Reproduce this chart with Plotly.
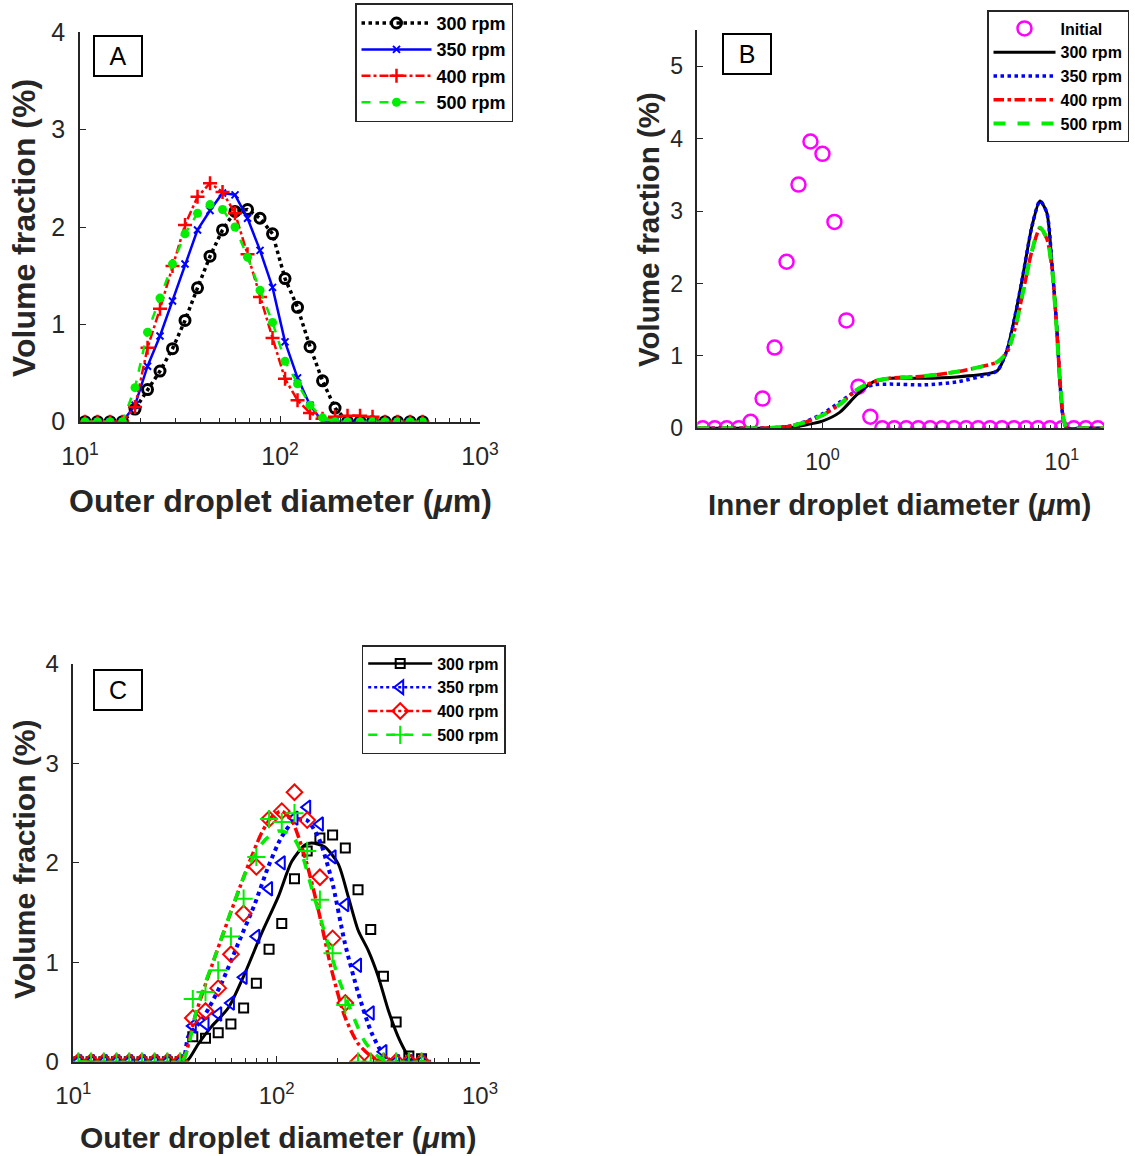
import plotly.graph_objects as go

W, H = 1135, 1156

# ---------------- Panel A data (outer droplet size distributions) ----------------
dA = [10.59, 12.23, 14.13, 16.31, 18.84, 21.76, 25.12, 29.01, 33.50, 38.69, 44.68, 51.60,
      59.58, 68.81, 79.46, 91.76, 105.96, 122.37, 141.31, 163.19, 188.45, 217.6, 251.3,
      290.2, 335.1, 387.0, 446.9, 516.1]
a300 = [0, 0, 0, 0, 0.13, 0.33, 0.52, 0.75, 1.04, 1.375, 1.70, 1.97, 2.16, 2.18, 2.09, 1.93,
        1.47, 1.175, 0.77, 0.42, 0.14, 0, 0, 0, 0, 0, 0, 0]
a350 = [0, 0, 0, 0, 0.17, 0.57, 0.88, 1.24, 1.62, 1.97, 2.17, 2.35, 2.33, 2.09, 1.76, 1.38,
        0.82, 0.45, 0.17, 0, 0, 0, 0, 0, 0, 0, 0, 0]
a400 = [0, 0, 0, 0, 0.15, 0.76, 1.16, 1.60, 2.02, 2.31, 2.45, 2.36, 2.14, 1.72, 1.28, 0.86,
        0.44, 0.22, 0.09, 0.03, 0.05, 0.06, 0.06, 0.05, 0, 0, 0, 0]
a500 = [0, 0, 0, 0, 0.35, 0.92, 1.27, 1.62, 1.93, 2.14, 2.23, 2.18, 2.00, 1.69, 1.35, 1.02,
        0.62, 0.39, 0.17, 0.04, 0, 0, 0, 0, 0, 0, 0, 0]

# ---------------- Panel B data (inner droplet size distributions) ----------------
dB_init = [0.316, 0.355, 0.398, 0.447, 0.501, 0.562, 0.631, 0.708, 0.794, 0.891, 1.0, 1.122,
           1.259, 1.413, 1.585, 1.778, 1.995, 2.239, 2.512, 2.818, 3.162, 3.548, 3.981, 4.467,
           5.012, 5.623, 6.310, 7.079, 7.943, 8.913, 10.0, 11.22, 12.59, 14.13]
b_init = [0, 0, 0, 0, 0.09, 0.41, 1.115, 2.30, 3.365, 3.96, 3.79, 2.85, 1.49, 0.575, 0.16,
          0, 0, 0, 0, 0, 0, 0, 0, 0, 0, 0, 0, 0, 0, 0, 0, 0, 0, 0]
dB = [0.3, 0.5, 0.6, 0.73, 0.86, 1.0, 1.18, 1.39, 1.63, 1.91, 2.64, 3.64, 5.0, 5.4, 5.9, 6.4,
      6.9, 7.5, 8.1, 8.65, 9.1, 9.5, 9.85, 10.15, 10.5, 12, 15]
b300 = [0, 0, 0.003, 0.01, 0.05, 0.10, 0.22, 0.46, 0.64, 0.69, 0.69, 0.71, 0.76, 0.80, 1.08,
        1.58, 2.14, 2.79, 3.14, 2.98, 2.25, 1.45, 0.57, 0.12, 0, 0, 0]
b350 = [0, 0, 0.005, 0.03, 0.10, 0.20, 0.36, 0.52, 0.60, 0.61, 0.60, 0.64, 0.75, 0.80, 1.08,
        1.58, 2.14, 2.79, 3.14, 2.98, 2.25, 1.45, 0.57, 0.12, 0, 0, 0]
b400 = [0, 0, 0.005, 0.03, 0.09, 0.18, 0.33, 0.53, 0.64, 0.69, 0.72, 0.78, 0.88, 0.92, 1.05,
        1.40, 1.90, 2.45, 2.76, 2.62, 2.20, 1.40, 0.60, 0.15, 0, 0, 0]
b500 = [0, 0, 0.005, 0.03, 0.09, 0.18, 0.33, 0.53, 0.65, 0.69, 0.72, 0.78, 0.88, 0.92, 1.05,
        1.40, 1.90, 2.45, 2.77, 2.63, 2.20, 1.40, 0.60, 0.15, 0, 0, 0]

# ---------------- Panel C data (outer droplets: experiment markers + model lines) ----------------
dC = dA
c300_exp = [0, 0, 0, 0, 0, 0, 0, 0, 0, 0.25, 0.235, 0.29, 0.38, 0.54, 0.79, 1.13, 1.39, 1.84,
            2.12, 2.25, 2.28, 2.15, 1.73, 1.33, 0.86, 0.40, 0.057, 0.03]
c350_exp = [0, 0, 0, 0, 0, 0, 0, 0, 0, 0.36, 0.38, 0.48, 0.59, 0.85, 1.26, 1.74, 2.00, 2.45,
            2.56, 2.39, 2.06, 1.58, 0.97, 0.49, 0.10, 0, 0, 0]
c400_exp = [0, 0, 0, 0, 0, 0, 0, 0, 0, 0.44, 0.51, 0.74, 1.08, 1.49, 1.96, 2.44, 2.52, 2.71,
            2.43, 1.855, 1.24, 0.59, 0, 0, 0, 0, 0, 0]
c500_exp = [0, 0, 0, 0, 0, 0, 0, 0, 0, 0.63, 0.70, 0.92, 1.26, 1.64, 2.06, 2.44, 2.41, 2.50,
            2.12, 1.63, 1.09, 0.57, 0, 0, 0, 0, 0, 0]

cx300 = [10.6, 34.0, 36.7, 41.2, 47.7, 57.8, 69.8, 84.3, 101.9, 118.4, 137.7, 148.5, 172.7,
         200.8, 225, 251.9, 282, 315.6, 353.8, 396, 443.6, 459, 575]
c300 = [0, 0, 0.02, 0.18, 0.35, 0.54, 0.89, 1.29, 1.66, 2.01, 2.18, 2.20, 2.16, 1.99, 1.66,
        1.32, 1.12, 0.86, 0.52, 0.25, 0.05, 0, 0]
cx350 = [10.6, 34.0, 36.7, 41.2, 44.4, 53.6, 64.7, 78.2, 90.9, 105.7, 123, 140.3, 160.2, 186.4,
         216.7, 251.9, 293, 340.7, 381.6, 575]
c350 = [0, 0, 0.25, 0.38, 0.47, 0.79, 1.19, 1.59, 1.96, 2.26, 2.43, 2.43, 2.26, 1.83, 1.19,
        0.69, 0.29, 0.05, 0, 0]
cx400 = [10.6, 34.0, 35.4, 39.6, 47.9, 57.8, 69.8, 84.3, 94.4, 105.7, 118.4, 137.7, 160.2,
         186.4, 216.7, 251.9, 293, 328, 575]
c400 = [0, 0, 0.05, 0.45, 0.96, 1.43, 1.89, 2.30, 2.46, 2.52, 2.43, 2.06, 1.53, 0.92, 0.45,
        0.18, 0.05, 0, 0]
cx500 = [10.6, 34.0, 36.7, 41.2, 49.8, 60.0, 72.4, 87.5, 101.9, 118.4, 132.4, 148.5, 172.7,
         200.8, 233.4, 271.6, 315.6, 353.8, 575]
c500 = [0, 0, 0.15, 0.59, 1.06, 1.53, 1.96, 2.23, 2.32, 2.28, 2.10, 1.75, 1.29, 0.85, 0.50,
        0.20, 0.05, 0, 0]

labels = ["300 rpm", "350 rpm", "400 rpm", "500 rpm"]

BLACK, BLUE, RED, GREEN, MAG = "#000000", "#0000ff", "#ff0000", "#00ee00", "#ff00ff"
TXT = "#262626"
FONT = "Liberation Sans"

fig = go.Figure()


def px_x(p):
    return p / W


def px_y(p):
    return 1 - p / H


# ---------------- Panel A traces ----------------
specA = [
    (a300, BLACK, "dot", 3.5, dict(symbol="circle-open", size=10, line=dict(width=3, color=BLACK))),
    (a350, BLUE, "solid", 2.5, dict(symbol="x-thin", size=7, line=dict(width=2, color=BLUE))),
    (a400, RED, "dashdot", 2.5, dict(symbol="cross-thin", size=10, line=dict(width=2.5, color=RED))),
    (a500, GREEN, "dash", 2.5, dict(symbol="circle", size=9, color=GREEN, line=dict(width=0))),
]
for (vals, col, dash, w, mk), name in zip(specA, labels):
    fig.add_trace(go.Scatter(x=dA, y=vals, mode="lines+markers", name="<b>%s</b>" % name,
                             line=dict(color=col, dash=dash, width=w), marker=mk,
                             xaxis="x", yaxis="y", legend="legend"))

# ---------------- Panel B traces ----------------
fig.add_trace(go.Scatter(x=dB_init, y=b_init, mode="markers", name="<b>Initial</b>",
                         marker=dict(symbol="circle-open", size=14, color=MAG,
                                     line=dict(width=2.5, color=MAG)),
                         xaxis="x2", yaxis="y2", legend="legend2"))
specB = [
    (b300, BLACK, "solid", 3),
    (b350, BLUE, "dot", 3.5),
    (b400, RED, "dashdot", 3.5),
    (b500, GREEN, "dash", 4),
]
for (vals, col, dash, w), name in zip(specB, labels):
    fig.add_trace(go.Scatter(x=dB, y=vals, mode="lines", name="<b>%s</b>" % name,
                             line=dict(color=col, dash=dash, width=w, shape="spline", smoothing=0.7),
                             xaxis="x2", yaxis="y2", legend="legend2"))

# ---------------- Panel C traces ----------------
specC = [
    (cx300, c300, c300_exp, BLACK, "solid", 3,
     dict(symbol="square-open", size=9, color=BLACK, line=dict(width=2, color=BLACK))),
    (cx350, c350, c350_exp, BLUE, "dot", 4,
     dict(symbol="triangle-left-open", size=12, color=BLUE, line=dict(width=2, color=BLUE))),
    (cx400, c400, c400_exp, RED, "dashdot", 3.5,
     dict(symbol="diamond-open", size=12, color=RED, line=dict(width=2, color=RED))),
    (cx500, c500, c500_exp, GREEN, "dash", 3.5,
     dict(symbol="cross-thin", size=13, color=GREEN, line=dict(width=2, color=GREEN))),
]
for (cx, cy, ce, col, dash, w, mk), name in zip(specC, labels):
    fig.add_trace(go.Scatter(x=cx, y=cy, mode="lines", showlegend=False,
                             line=dict(color=col, dash=dash, width=w, shape="spline", smoothing=0.7),
                             xaxis="x3", yaxis="y3"))
    fig.add_trace(go.Scatter(x=dC, y=ce, mode="markers", showlegend=False, marker=mk,
                             xaxis="x3", yaxis="y3"))
    fig.add_trace(go.Scatter(x=[None], y=[None], mode="lines+markers", name="<b>%s</b>" % name,
                             line=dict(color=col, dash=dash, width=2.5), marker=mk,
                             xaxis="x3", yaxis="y3", legend="legend3"))


def xaxis(dom, rng, tv, tt, minor, fs, anchor):
    return dict(type="log", range=rng, domain=dom, anchor=anchor, showline=True,
                linecolor=TXT, linewidth=1.5, ticks="inside", ticklen=6, tickwidth=1.3,
                tickcolor=TXT, showgrid=False, zeroline=False, tickmode="array",
                tickvals=tv, ticktext=tt, ticklabelstandoff=12, automargin=False,
                tickfont=dict(family=FONT, size=fs, color=TXT),
                minor=dict(ticks="inside", ticklen=3.5, tickwidth=1, tickcolor=TXT,
                           tickmode="array", tickvals=minor, showgrid=False))


def yaxis(dom, rng, tv, fs, anchor):
    return dict(range=rng, domain=dom, anchor=anchor, showline=True, linecolor=TXT,
                linewidth=1.5, ticks="inside", ticklen=6, tickwidth=1.3, tickcolor=TXT,
                showgrid=False, zeroline=False, tickmode="array", tickvals=tv,
                automargin=False, ticklabelstandoff=8,
                tickfont=dict(family=FONT, size=fs, color=TXT))


minor_outer = [20, 30, 40, 50, 60, 70, 80, 90, 200, 300, 400, 500, 600, 700, 800, 900]
minor_inner = [0.3, 0.4, 0.5, 0.6, 0.7, 0.8, 0.9, 2, 3, 4, 5, 6, 7, 8, 9]
tt_outer = ["10<sup>1</sup>", "10<sup>2</sup>", "10<sup>3</sup>"]

A_x = [px_x(80), px_x(480)]
A_y = [px_y(421.7), px_y(32.3)]
B_x = [px_x(697.3), px_x(1104)]
B_y = [px_y(428.3), px_y(30)]
C_x = [px_x(73.3), px_x(480)]
C_y = [px_y(1061.7), px_y(664)]

fig.update_layout(
    template="none",
    width=W, height=H, margin=dict(l=0, r=0, t=0, b=0, pad=0, autoexpand=False),
    paper_bgcolor="white", plot_bgcolor="white", showlegend=True,
    xaxis=xaxis(A_x, [1, 3], [10, 100, 1000], tt_outer, minor_outer, 25, "y"),
    yaxis=yaxis(A_y, [0, 4], [0, 1, 2, 3, 4], 25, "x"),
    xaxis2=xaxis(B_x, [-0.5229, 1.1761], [1, 10], ["10<sup>0</sup>", "10<sup>1</sup>"],
                 minor_inner, 23, "y2"),
    yaxis2=yaxis(B_y, [0, 5.5], [0, 1, 2, 3, 4, 5], 23, "x2"),
    xaxis3=xaxis(C_x, [1, 3], [10, 100, 1000], tt_outer, minor_outer, 24, "y3"),
    yaxis3=yaxis(C_y, [0, 4], [0, 1, 2, 3, 4], 24, "x3"),
    legend=dict(x=px_x(355), y=px_y(3.3), xanchor="left", yanchor="top",
                bordercolor=TXT, borderwidth=1.5, bgcolor="white",
                font=dict(family=FONT, size=18, color="black"), itemwidth=70),
    legend2=dict(x=px_x(987), y=px_y(10), xanchor="left", yanchor="top",
                 bordercolor=TXT, borderwidth=1.5, bgcolor="white",
                 font=dict(family=FONT, size=16, color="black"), itemwidth=62),
    legend3=dict(x=px_x(361.7), y=px_y(645), xanchor="left", yanchor="top",
                 bordercolor=TXT, borderwidth=1.5, bgcolor="white",
                 font=dict(family=FONT, size=16, color="black"), itemwidth=64),
)

annots = []
# panel letters
for letter, cx, cy in [("A", 118, 56), ("B", 746.7, 54.2), ("C", 117.7, 690.3)]:
    annots.append(dict(text=letter, x=px_x(cx), y=px_y(cy), xref="paper", yref="paper",
                       xanchor="center", yanchor="middle", showarrow=False,
                       font=dict(family=FONT, size=25, color="black"),
                       bordercolor="black", borderwidth=2, borderpad=0, bgcolor="white",
                       width=46, height=38))
# axis titles
for txt, cx, cy, fs, ang in [
    ("<b>Volume fraction (%)</b>", 24, 228, 32, -90),
    ("<b>Outer droplet diameter (<i>μ</i>m)</b>", 280, 501, 32, 0),
    ("<b>Volume fraction (%)</b>", 648, 230, 29.5, -90),
    ("<b>Inner droplet diameter (<i>μ</i>m)</b>", 900, 504, 29.5, 0),
    ("<b>Volume fraction (%)</b>", 24, 860, 30, -90),
    ("<b>Outer droplet diameter (<i>μ</i>m)</b>", 278, 1137, 30, 0),
]:
    annots.append(dict(text=txt, x=px_x(cx), y=px_y(cy), xref="paper", yref="paper",
                       xanchor="center", yanchor="middle", showarrow=False, textangle=ang,
                       font=dict(family=FONT, size=fs, color=TXT)))
fig.update_layout(annotations=annots)

fig.write_html("out.html", config={"displayModeBar": False},
               post_script="document.body.style.margin='0';document.body.style.padding='0';"
                           "document.body.style.overflow='hidden';")
